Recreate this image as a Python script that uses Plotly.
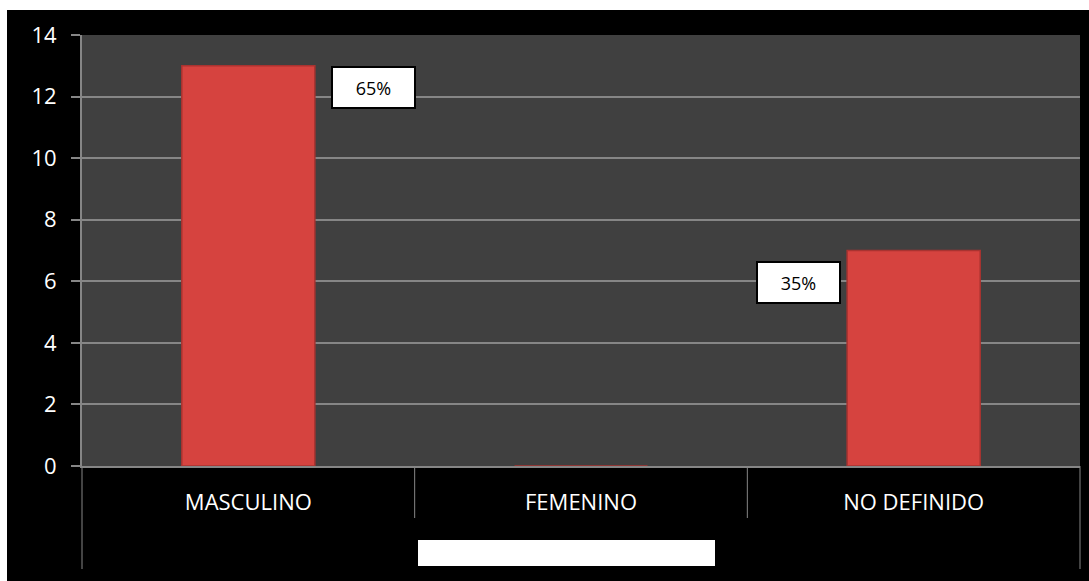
import plotly.graph_objects as go

categories = ["MASCULINO", "FEMENINO", "NO DEFINIDO"]
values = [13, 0, 7]
y_ticks = [0, 2, 4, 6, 8, 10, 12, 14]

total = sum(values)
labels = {0: (125, -22), 2: (-115, -32)}  # annotation offsets (px) for non-zero bars

W, H = 1089, 581
ML, MR, MT, MB = 82, 9, 35, 115
PW = W - ML - MR
PH = H - MT - MB


def px(x):
    return (x - ML) / PW


def py(y):
    return (H - MB - y) / PH


fig = go.Figure()
fig.add_trace(go.Bar(
    x=categories, y=values, width=0.4,
    marker=dict(color="#d6433f", line=dict(color="#a93330", width=1.5)),
    hoverinfo="x+y",
))

annotations = []
for i, (dx, dy) in labels.items():
    annotations.append(dict(
        x=categories[i], y=values[i], xref="x", yref="y",
        text=f"{round(values[i] / total * 100)}%", showarrow=False,
        xshift=dx, yshift=dy, width=79, height=37,
        bgcolor="white", bordercolor="black", borderwidth=2, borderpad=1,
        font=dict(family="Open Sans", size=18, color="black"),
    ))

grey = "#868686"
shapes = []
# category separators below the axis
for k, xp in enumerate([0, 1 / 3, 2 / 3, 1]):
    ybot = 569 if k in (0, 3) else 518
    shapes.append(dict(type="line", xref="paper", yref="paper",
                       x0=xp, x1=xp, y0=0, y1=py(ybot),
                       line=dict(color=grey, width=1)))
# empty legend box
shapes.append(dict(type="rect", xref="paper", yref="paper",
                   x0=px(418), x1=px(715), y0=py(566), y1=py(540),
                   fillcolor="white", line=dict(width=0)))
# white page margins (top, left)
shapes.append(dict(type="rect", xref="paper", yref="paper",
                   x0=px(0), x1=px(W), y0=py(10), y1=py(0),
                   fillcolor="white", line=dict(width=0)))
shapes.append(dict(type="rect", xref="paper", yref="paper",
                   x0=px(0), x1=px(7), y0=py(H), y1=py(0),
                   fillcolor="white", line=dict(width=0)))

fig.update_layout(
    width=W, height=H,
    margin=dict(l=ML, r=MR, t=MT, b=MB),
    paper_bgcolor="black", plot_bgcolor="#404040",
    showlegend=False,
    bargap=0.6,
    annotations=annotations,
    shapes=shapes,
    font=dict(family="Open Sans", color="white"),
    xaxis=dict(
        showline=True, linecolor=grey, linewidth=2, showgrid=False,
        ticks="", tickfont=dict(size=22, color="white"),
        ticklabelstandoff=16,
    ),
    yaxis=dict(
        range=[0, 14], tickvals=y_ticks,
        showgrid=True, gridcolor=grey, gridwidth=1.6,
        showline=True, linecolor=grey, linewidth=2,
        ticks="outside", ticklen=9, tickcolor=grey, tickwidth=1.6,
        tickfont=dict(size=22, color="white"),
        ticklabelstandoff=10,
        zeroline=False,
    ),
)

fig.write_html(
    "out.html",
    config={"displayModeBar": False},
    post_script="document.body.style.margin='0';document.body.style.overflow='hidden';",
)
